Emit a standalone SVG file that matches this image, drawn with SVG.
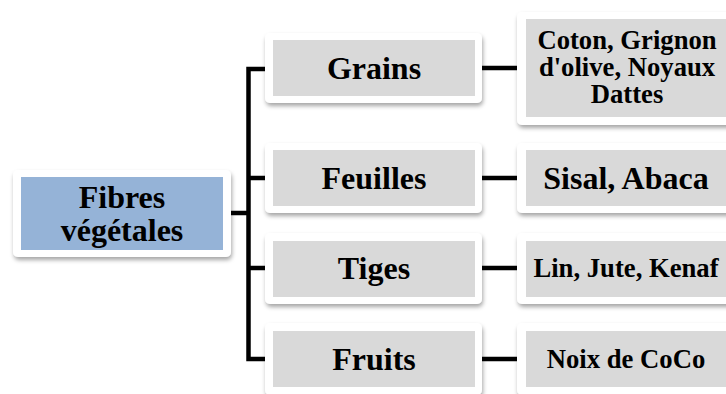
<svg xmlns="http://www.w3.org/2000/svg" width="726" height="394" viewBox="0 0 726 394">
<defs>
<filter id="sh" x="-10%" y="-20%" width="120%" height="150%">
<feDropShadow dx="1" dy="3" stdDeviation="2" flood-color="#000" flood-opacity="0.35"/>
</filter>
<style>
.outer{fill:#fff;filter:url(#sh);}
.inner{fill:#D9D9D9;}
.root{fill:#95B3D7;}
.t{font-family:"Liberation Serif","Times New Roman",serif;font-weight:bold;fill:#000;text-anchor:middle;}
.big{font-size:32px;}
.sm{font-size:26.67px;}
.ln{stroke:#000;stroke-width:4.5;fill:none;}
</style>
</defs>
<rect width="726" height="394" fill="#fff"/>
<g id="connectors">
<path class="ln" d="M231 213 H248.5"/>
<path class="ln" d="M265 69 H248.5 V359 H265"/>
<path class="ln" d="M248.5 178 H265"/>
<path class="ln" d="M248.5 268 H265"/>
<path class="ln" d="M482 68 H518"/>
<path class="ln" d="M482 178 H518"/>
<path class="ln" d="M482 268 H518"/>
<path class="ln" d="M482 359 H518"/>
</g>
<g id="root">
<rect class="outer" x="13" y="170" width="218" height="87" rx="5"/>
<rect class="root" x="21" y="177" width="202" height="73"/>
<text class="t big" x="122" y="208">Fibres</text>
<text class="t big" x="122" y="241">végétales</text>
</g>
<g id="grains">
<rect class="outer" x="265" y="33" width="217" height="70" rx="5"/>
<rect class="inner" x="273" y="40" width="202" height="56"/>
<text class="t big" x="374" y="79">Grains</text>
</g>
<g id="feuilles">
<rect class="outer" x="265" y="143" width="217" height="70" rx="5"/>
<rect class="inner" x="273" y="150" width="202" height="56"/>
<text class="t big" x="374" y="189">Feuilles</text>
</g>
<g id="tiges">
<rect class="outer" x="265" y="233" width="217" height="71" rx="5"/>
<rect class="inner" x="273" y="241" width="202" height="56"/>
<text class="t big" x="374" y="279">Tiges</text>
</g>
<g id="fruits">
<rect class="outer" x="265" y="323" width="217" height="72" rx="5"/>
<rect class="inner" x="273" y="331" width="202" height="56"/>
<text class="t big" x="374" y="370">Fruits</text>
</g>
<g id="coton">
<rect class="outer" x="517" y="12" width="218" height="113" rx="5"/>
<rect class="inner" x="526" y="19" width="202" height="98"/>
<text class="t sm" x="627" y="49">Coton, Grignon</text>
<text class="t sm" x="627" y="76">d'olive, Noyaux</text>
<text class="t sm" x="627" y="103">Dattes</text>
</g>
<g id="sisal">
<rect class="outer" x="517" y="143" width="218" height="70" rx="5"/>
<rect class="inner" x="526" y="150" width="202" height="56"/>
<text class="t big" x="626" y="189">Sisal, Abaca</text>
</g>
<g id="lin">
<rect class="outer" x="517" y="233" width="218" height="71" rx="5"/>
<rect class="inner" x="526" y="241" width="202" height="56"/>
<text class="t sm" x="626" y="277">Lin, Jute, Kenaf</text>
</g>
<g id="noix">
<rect class="outer" x="517" y="323" width="218" height="72" rx="5"/>
<rect class="inner" x="526" y="331" width="202" height="56"/>
<text class="t sm" x="626" y="368">Noix de CoCo</text>
</g>
</svg>
